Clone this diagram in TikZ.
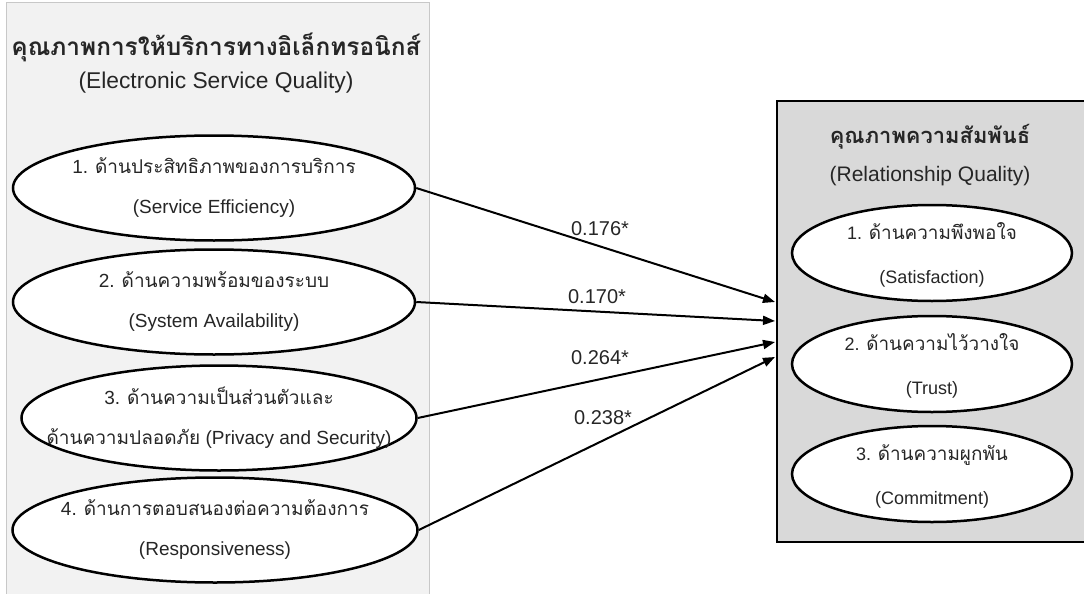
\documentclass[tikz,border=0pt]{standalone}
\usepackage{fontspec}
\setmainfont{Liberation Sans}
\newfontfamily\thaifont[Script=Thai]{Loma}
\newcommand{\thaitxt}[1]{{\thaifont #1}}
\usetikzlibrary{arrows.meta,positioning,shapes.geometric}
\definecolor{leftpanel}{HTML}{F2F2F2}
\definecolor{leftedge}{HTML}{C8C8C8}
\definecolor{rightpanel}{HTML}{D9D9D9}
\definecolor{inktext}{HTML}{262626}

\begin{document}
\begin{tikzpicture}[x=1pt, y=-1pt,
  every node/.style={text=inktext, align=center},
  esqbox/.style={rectangle, fill=leftpanel, draw=leftedge, line width=1pt,
    minimum width=423pt, minimum height=600pt, inner sep=0pt},
  rqbox/.style={rectangle, fill=rightpanel, draw=black, line width=2.5pt,
    minimum width=318pt, minimum height=441pt, inner sep=0pt},
  oval/.style={ellipse, draw=black, fill=white, line width=2.5pt, inner sep=0pt},
  ovaltext/.style={font=\fontsize{19}{40}\selectfont, inner sep=0pt},
  rtext/.style={font=\fontsize{18}{44}\selectfont, inner sep=0pt},
  wlbl/.style={font=\fontsize{20}{24}\selectfont, inner sep=0pt},
  path/.style={line width=2pt, -{Triangle[length=12pt,width=9pt]}}]
  \useasboundingbox (0,0) rectangle (1084,594);
  \clip (0,0) rectangle (1084,594);

  %% Panels
  \node[esqbox] (esq) at (217.5,303) {};
  \node[rqbox] (rq) at (936,321.5) {};

  %% Panel titles
  \node[font=\fontsize{22.8}{33}\selectfont] (esqtitle) at (216,63)
    {{\thaifont\bfseries\fontsize{24.4}{33}\selectfont คุณภาพการให้บริการทางอิเล็กทรอนิกส์}\\(Electronic Service Quality)};
  \node[font=\fontsize{21}{38}\selectfont] (rqtitle) at (930,155)
    {{\thaifont\bfseries\fontsize{21.9}{38}\selectfont คุณภาพความสัมพันธ์}\\(Relationship Quality)};

  %% Electronic service quality dimensions
  \foreach \n/\cx/\cy/\w/\ta/\tb in {
      1/214/188/402/{ด้านประสิทธิภาพของการบริการ}/{(Service Efficiency)},
      2/214/302/402/{ด้านความพร้อมของระบบ}/{(System Availability)},
      3/219/418/395/{ด้านความเป็นส่วนตัวและ}/{\thaitxt{ด้านความปลอดภัย} (Privacy and Security)},
      4/215/530/405/{ด้านการตอบสนองต่อความต้องการ}/{(Responsiveness)}} {
    \node[oval, minimum width=\w pt, minimum height=105pt] (e\n) at (\cx,\cy) {};
    \node[ovaltext] (e\n txt) at (e\n) {\n. \thaitxt{\ta}\\\tb};
  }

  %% Relationship quality dimensions
  \foreach \n/\cy/\ta/\tb in {
      1/253/{ด้านความพึงพอใจ}/{(Satisfaction)},
      2/364/{ด้านความไว้วางใจ}/{(Trust)},
      3/474/{ด้านความผูกพัน}/{(Commitment)}} {
    \node[oval, minimum width=280pt, minimum height=96pt] (r\n) at (932,\cy) {};
    \node[rtext] (r\n txt) at ([yshift=-2pt]r\n.center)
      {\n. {\thaifont\fontsize{18.9}{44}\selectfont \ta}\\\tb};
  }

  %% Paths into relationship quality
  \foreach \n/\ty/\lx/\ly/\val in {
      1/302/600/229/0.176*,
      2/321/597/297/0.170*,
      3/342/600/358/0.264*,
      4/357/603/418/0.238*} {
    \coordinate (a\n) at (775,\ty);
    \draw[path] (e\n.east) -- (a\n);
    \node[wlbl] (w\n) at (\lx,\ly) {\val};
  }
\end{tikzpicture}
\end{document}
